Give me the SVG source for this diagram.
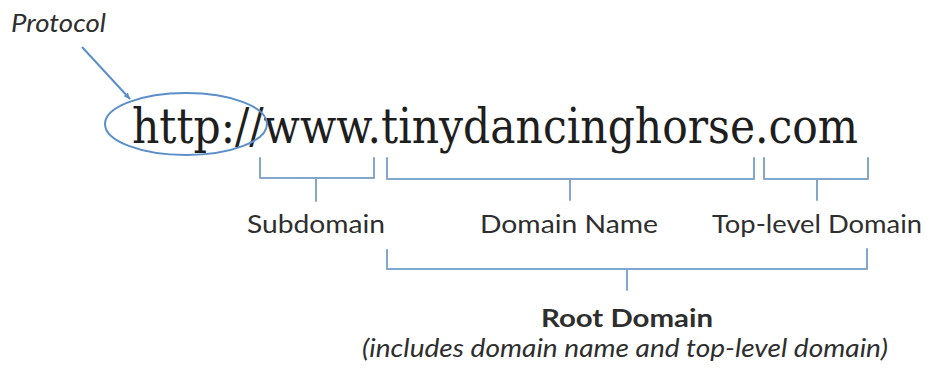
<svg xmlns="http://www.w3.org/2000/svg" width="930" height="370" viewBox="0 0 930 370">
<defs>
<style>
.br{fill:none;stroke:#82a6cc;stroke-width:2;stroke-linejoin:round;stroke-linecap:round}
.lbl{font-family:Lato,"Open Sans",sans-serif;font-size:25px;fill:#2e2e2e}
.url{font-family:"DejaVu Serif","Liberation Serif",serif;font-size:48px;fill:#1e1e1e}
</style>
<marker id="ah" viewBox="0 0 10 10" refX="9" refY="5" markerWidth="7" markerHeight="7" orient="auto" markerUnits="userSpaceOnUse">
<path d="M0,1 L10,5 L0,9 z" fill="#5b8fc9"/>
</marker>
</defs>
<rect width="930" height="370" fill="#ffffff"/>
<g id="url" transform="translate(132,143) scale(0.885,1)">
<text class="url" x="0" y="0">http://www.tinydancinghorse.com</text>
</g>
<g id="protocol">
<text class="lbl" x="11" y="32" font-style="italic" font-size="23" textLength="95" lengthAdjust="spacingAndGlyphs">Protocol</text>
<ellipse cx="186" cy="124" rx="81" ry="31" fill="none" stroke="#5b8fc9" stroke-width="2"/>
</g>
<g id="subdomain">
<text class="lbl" x="247" y="233" textLength="138" lengthAdjust="spacingAndGlyphs">Subdomain</text>
</g>
<g id="domain-name">
<text class="lbl" x="480" y="233" textLength="178" lengthAdjust="spacingAndGlyphs">Domain Name</text>
</g>
<g id="top-level-domain">
<text class="lbl" x="712" y="233" textLength="210" lengthAdjust="spacingAndGlyphs">Top-level Domain</text>
</g>
<g id="root-domain">
<text class="lbl" x="627" y="327" text-anchor="middle" font-weight="bold" font-size="25" textLength="172" lengthAdjust="spacingAndGlyphs">Root Domain</text>
<text class="lbl" x="625" y="357" text-anchor="middle" font-style="italic" font-size="24" textLength="526" lengthAdjust="spacingAndGlyphs">(includes domain name and top-level domain)</text>
</g>
<g id="connectors">
<line x1="82" y1="47" x2="130" y2="99" stroke="#5b8fc9" stroke-width="2" marker-end="url(#ah)"/>
<path class="br" d="M260,158 L260,178 L374,178 L374,158 M316,178 L316,201"/>
<path class="br" d="M387,158 L387,179 L754,179 L754,158 M570,179 L570,200"/>
<path class="br" d="M764,158 L764,179 L868,179 L868,158 M817,179 L817,200"/>
<path class="br" d="M387,250 L387,269 L867,269 L867,249 M627,269 L627,290"/>
</g>
</svg>
